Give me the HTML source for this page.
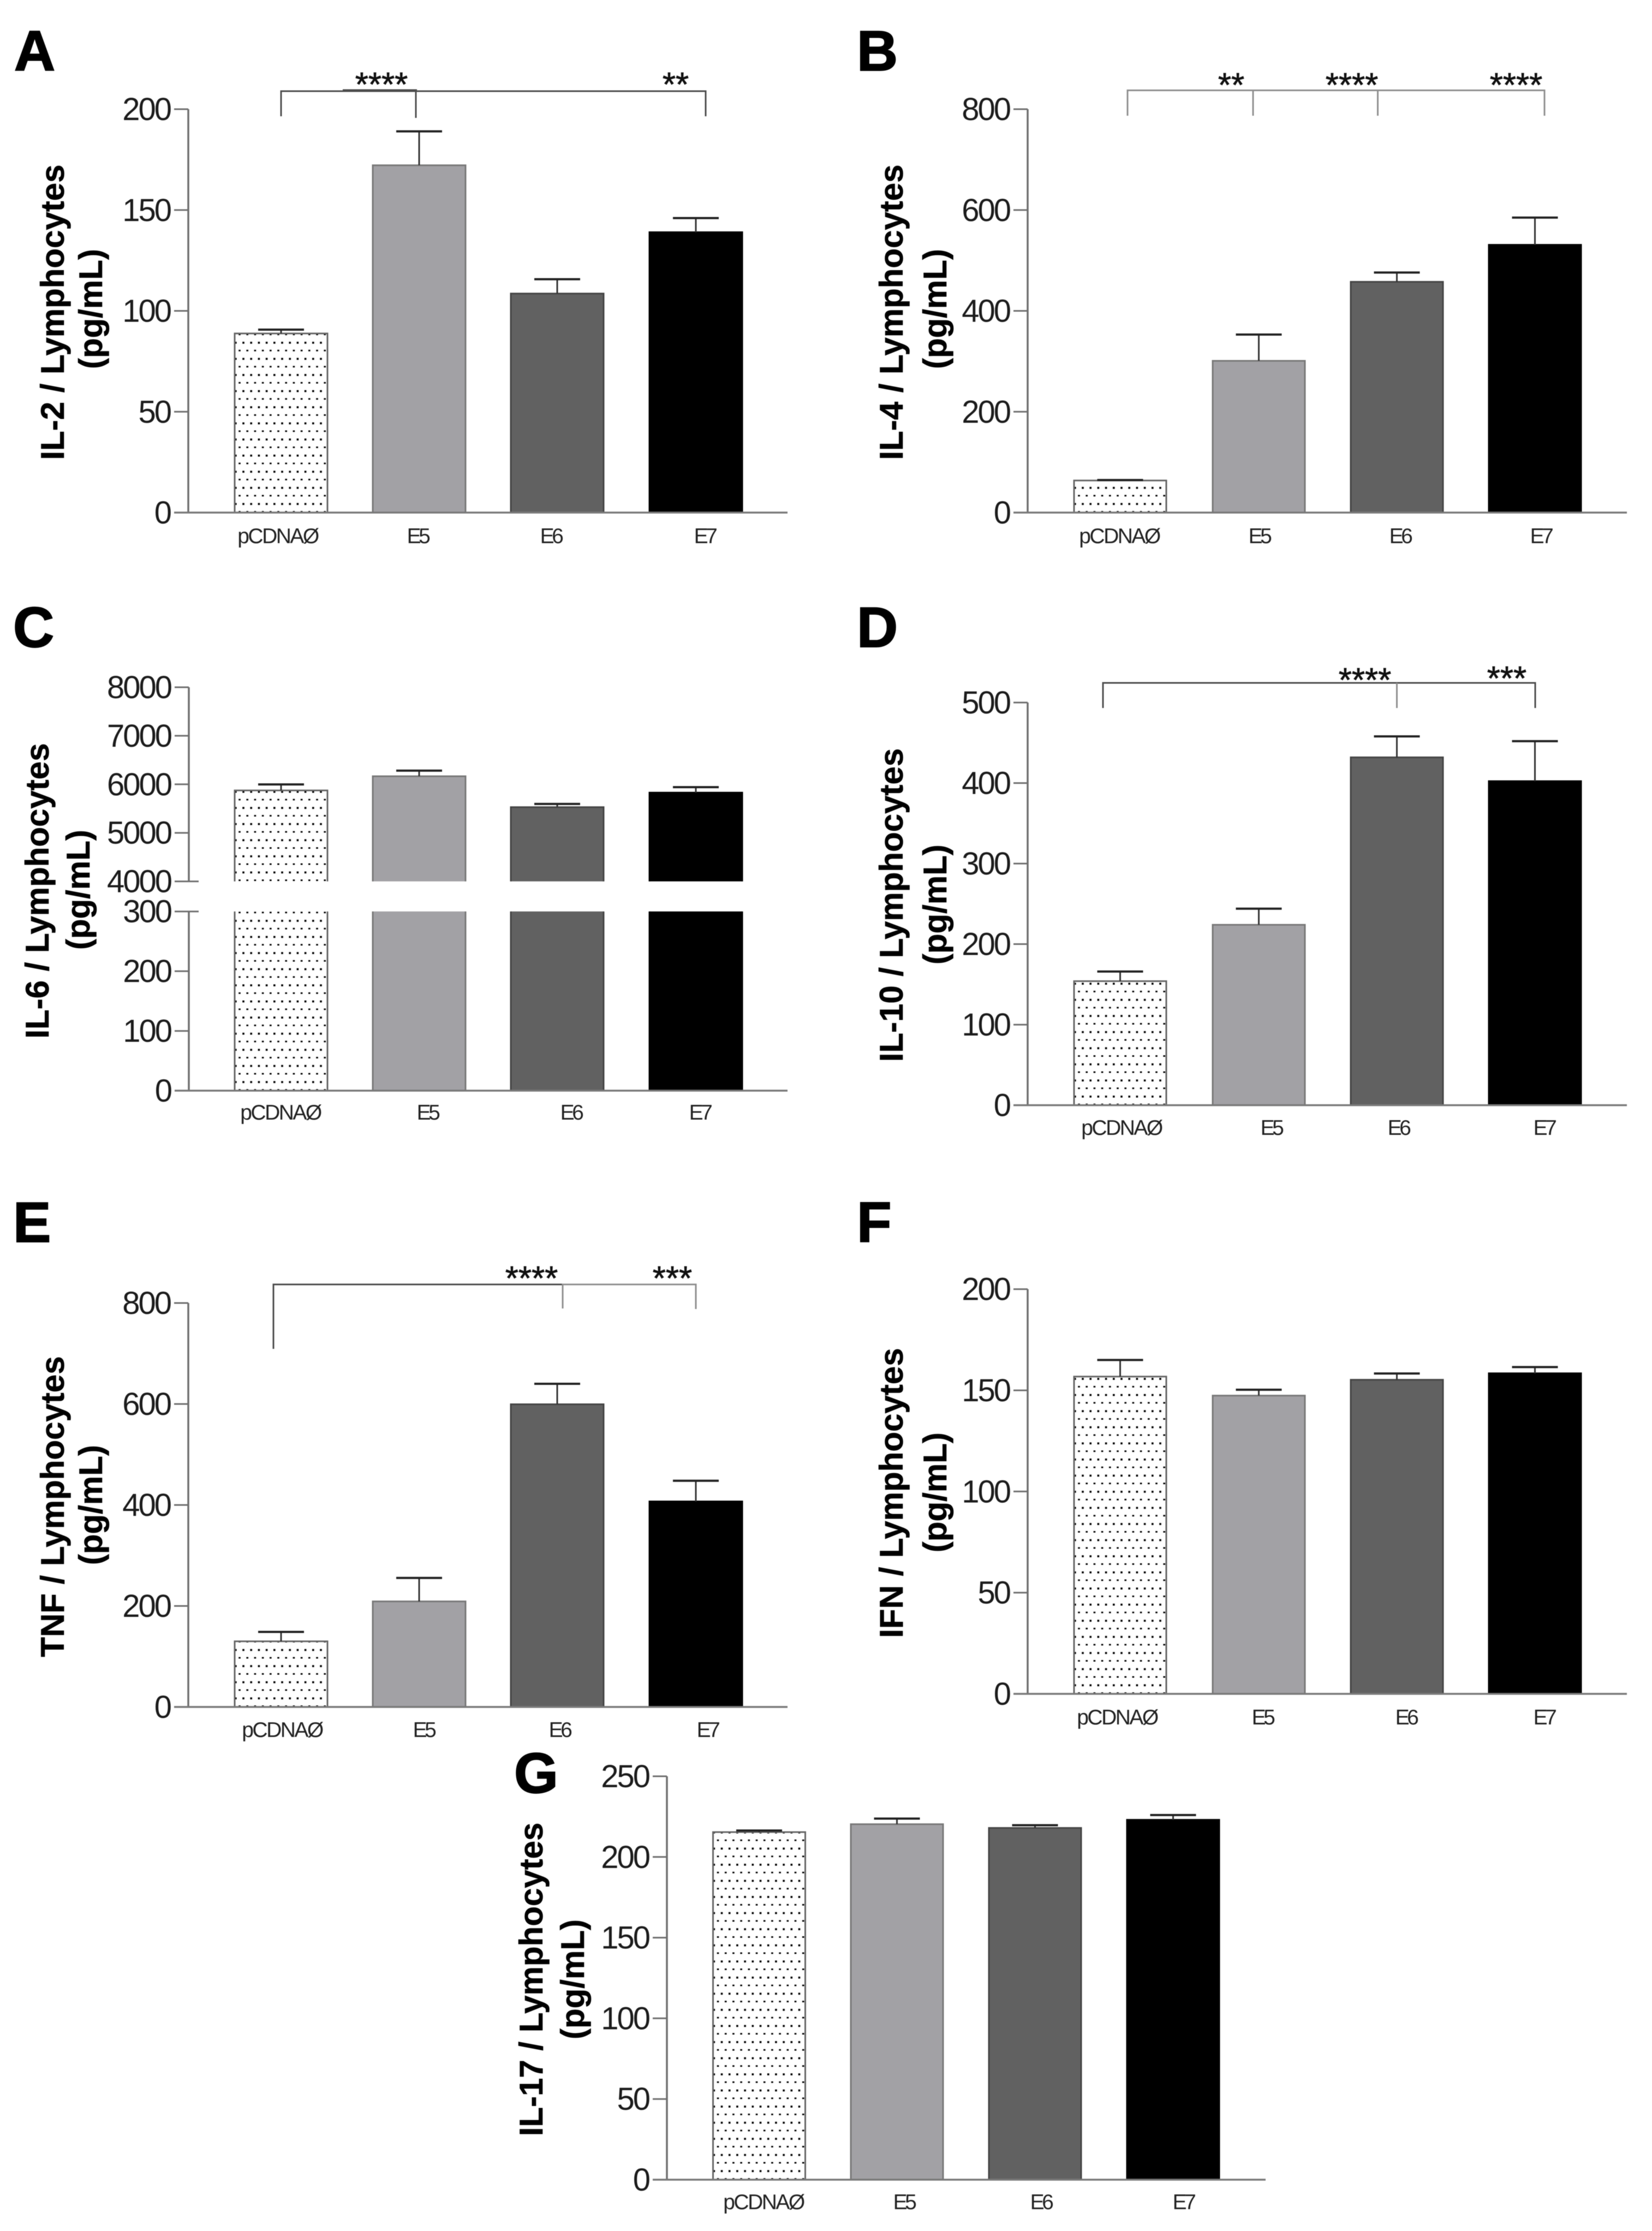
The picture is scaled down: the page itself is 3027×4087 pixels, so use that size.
<!DOCTYPE html>
<html lang="en">
<head>
<meta charset="utf-8">
<title>Cytokine levels per lymphocyte</title>
<style>
  html, body { margin: 0; padding: 0; background: #ffffff; }
  body { width: 3027px; height: 4087px; overflow: hidden; }
  svg { display: block; filter: blur(0.6px); font-family: "Liberation Sans", Arial, sans-serif; }
  .letter { font-size: 104px; font-weight: 700; fill: #000; stroke: #000; stroke-width: 2px; stroke-linejoin: miter; }
  .ytitle { font-size: 60px; font-weight: 700; fill: #000; text-anchor: middle; stroke: #000; stroke-width: 0.6px; }
  .stars { font-size: 62px; fill: #111; text-anchor: middle; stroke: #111; stroke-width: 0.8px; }
  .tick-label { font-size: 58px; letter-spacing: -3px; fill: #1c1c1c; text-anchor: end; }
  .cat-label { font-size: 39px; letter-spacing: -2.5px; fill: #222; text-anchor: middle; }
  .cat-label.short { letter-spacing: -4.5px; }
  .br-dark { stroke: #4d4d4d; stroke-width: 3px; fill: none; }
  .br-gray { stroke: #8f8f8f; stroke-width: 3px; fill: none; }
</style>
</head>
<body>
<svg id="figure" xmlns="http://www.w3.org/2000/svg" width="3027" height="4087" viewBox="0 0 3027 4087">
  <rect x="0" y="0" width="3027" height="4087" fill="#ffffff"/>
  <defs id="defs"></defs>

  <!-- Panel A -->
  <g id="panel-a">
    <text class="letter" x="26" y="129">A</text>
    <text class="ytitle" transform="translate(117,572) rotate(-90)">IL-2 / Lymphocytes</text>
    <text class="ytitle" transform="translate(187,566) rotate(-90)">(pg/mL)</text>
    <g>
      <path class="br-dark" d="M515 213V167H1293V213M762 167V216"/>
      <path class="br-dark" d="M628 165H764"/>
      <text class="stars" x="699" y="176">****</text>
      <text class="stars" x="1238" y="176">**</text>
    </g>
  </g>

  <!-- Panel B -->
  <g id="panel-b">
    <text class="letter" x="1570" y="129">B</text>
    <text class="ytitle" transform="translate(1654,572) rotate(-90)">IL-4 / Lymphocytes</text>
    <text class="ytitle" transform="translate(1734,566) rotate(-90)">(pg/mL)</text>
    <g>
      <path class="br-gray" d="M2066 212V165.500H2830V212M2296 165.500V212M2524.500 165.500V212"/>
      <text class="stars" x="2256" y="177">**</text>
      <text class="stars" x="2477" y="177">****</text>
      <text class="stars" x="2778" y="177">****</text>
    </g>
  </g>

  <!-- Panel C -->
  <g id="panel-c">
    <text class="letter" x="24" y="1185">C</text>
    <text class="ytitle" transform="translate(89,1632) rotate(-90)">IL-6 / Lymphocytes</text>
    <text class="ytitle" transform="translate(164,1630) rotate(-90)">(pg/mL)</text>
  </g>

  <!-- Panel D -->
  <g id="panel-d">
    <text class="letter" x="1570" y="1185">D</text>
    <text class="ytitle" transform="translate(1654,1658) rotate(-90)">IL-10 / Lymphocytes</text>
    <text class="ytitle" transform="translate(1734,1657) rotate(-90)">(pg/mL)</text>
    <g>
      <path class="br-dark" d="M2021 1297V1251H2813V1297"/>
      <path class="br-gray" d="M2559.500 1251V1297"/>
      <text class="stars" x="2501" y="1267">****</text>
      <text class="stars" x="2761" y="1264">***</text>
    </g>
  </g>

  <!-- Panel E -->
  <g id="panel-e">
    <text class="letter" x="24" y="2275">E</text>
    <text class="ytitle" transform="translate(117,2760) rotate(-90)">TNF / Lymphocytes</text>
    <text class="ytitle" transform="translate(187,2757) rotate(-90)">(pg/mL)</text>
    <g>
      <path class="br-dark" d="M501 2471V2353H1031"/>
      <path class="br-gray" d="M1031 2397V2353H1275V2398"/>
      <text class="stars" x="974" y="2363">****</text>
      <text class="stars" x="1232" y="2363">***</text>
    </g>
  </g>

  <!-- Panel F -->
  <g id="panel-f">
    <text class="letter" x="1570" y="2275">F</text>
    <text class="ytitle" transform="translate(1654,2735) rotate(-90)">IFN / Lymphocytes</text>
    <text class="ytitle" transform="translate(1734,2734) rotate(-90)">(pg/mL)</text>
  </g>

  <!-- Panel G -->
  <g id="panel-g">
    <text class="letter" x="942" y="3284">G</text>
    <text class="ytitle" transform="translate(994,3626) rotate(-90)">IL-17 / Lymphocytes</text>
    <text class="ytitle" transform="translate(1070,3626) rotate(-90)">(pg/mL)</text>
  </g>
</svg>

<script>
// ---- Data ----
const categories = ['pCDNAØ', 'E5', 'E6', 'E7'];

const il2Ticks = [0, 50, 100, 150, 200];
const il2Means = [88.8, 172.2, 108.6, 139];
const il2Upper = [90.7, 189, 115.7, 146];

const il4Ticks = [0, 200, 400, 600, 800];
const il4Means = [63.6, 301, 457.6, 531];
const il4Upper = [64.5, 353, 476, 585];

const il6Ticks = [0, 100, 200, 300, 4000, 5000, 6000, 7000, 8000];
const il6Means = [5874, 6166, 5530, 5829];
const il6Upper = [5998, 6282, 5596, 5941];

const il10Ticks = [0, 100, 200, 300, 400, 500];
const il10Means = [154, 224, 432, 402.4];
const il10Upper = [166, 244, 458, 452];

const tnfTicks = [0, 200, 400, 600, 800];
const tnfMeans = [130, 209, 599.5, 407];
const tnfUpper = [148.6, 255.6, 640, 448];

const ifnTicks = [0, 50, 100, 150, 200];
const ifnMeans = [156.8, 147.4, 155.2, 158.4];
const ifnUpper = [165, 150.3, 158.3, 161.5];

const il17Ticks = [0, 50, 100, 150, 200, 250];
const il17Means = [215.4, 220.3, 218, 223];
const il17Upper = [216.4, 223.8, 219.7, 226];

// ---- Rendering ----
const SVG_NS = 'http://www.w3.org/2000/svg';
const barFills = ['#ffffff', '#a2a1a5', '#616161', '#000000'];
const barStrokes = ['#666666', '#787878', '#454545', '#000000'];

function mk(tag, attrs, parent) {
  const node = document.createElementNS(SVG_NS, tag);
  for (const key in attrs) node.setAttribute(key, attrs[key]);
  parent.appendChild(node);
  return node;
}

function linearScale(baseY, topY, domainMax) {
  return function (v) { return baseY - (v / domainMax) * (baseY - topY); };
}

function brokenScale(baseY, lowTopY, lowMax, highBaseY, highMin, highTopY, highMax) {
  return function (v) {
    if (v <= lowMax) return baseY - (v / lowMax) * (baseY - lowTopY);
    return highBaseY - ((v - highMin) / (highMax - highMin)) * (highBaseY - highTopY);
  };
}

function dotPattern(id, left, baseY) {
  const defs = document.getElementById('defs');
  const pattern = mk('pattern', { id: 'dots-' + id, patternUnits: 'userSpaceOnUse', x: left, y: baseY, width: 14.2, height: 29.54 }, defs);
  mk('rect', { x: 7.2, y: 26.7, width: 3.6, height: 3.6, fill: '#000' }, pattern);
  mk('rect', { x: 0, y: 12, width: 3.6, height: 3.6, fill: '#000' }, pattern);
  return 'url(#dots-' + id + ')';
}

function drawPanel(id, layout, y, ticks, means, upper) {
  const panel = document.getElementById('panel-' + id);
  const baseY = y(0);
  const segments = layout.segments;

  // bars
  categories.forEach(function (cat, i) {
    const left = layout.barLeft[i];
    const right = left + layout.barW;
    const spans = layout.breakAt
      ? [[0, layout.breakAt[0]], [layout.breakAt[1], means[i]]]
      : [[0, means[i]]];
    spans.forEach(function (span, s) {
      const top = y(span[1]);
      const bottom = y(span[0]);
      const bar = mk('rect', {
        x: left, y: top, width: layout.barW, height: bottom - top,
        fill: barFills[i]
      }, panel);
      
      
      if (i === 0) {
        const dots = mk('rect', { x: left, y: top, width: layout.barW, height: bottom - top, fill: dotPattern(id + s, left, baseY) }, panel);
        
        
      }
      // outline: a broken bar stays open at the axis break
      const isLowerOfBreak = layout.breakAt && s === 0;
      const outlinePath = isLowerOfBreak
        ? 'M' + left + ' ' + top + 'V' + bottom + 'H' + right + 'V' + top
        : 'M' + left + ' ' + bottom + 'V' + top + 'H' + right + 'V' + bottom;
      const outline = mk('path', { d: outlinePath, fill: 'none', stroke: barStrokes[i], 'stroke-width': 3 }, panel);
      
      
    });

    // error bar
    const cx = left + layout.barW / 2;
    const stem = mk('line', { x1: cx, x2: cx, y1: y(means[i]), y2: y(upper[i]), stroke: '#333', 'stroke-width': 3 }, panel);
    
    
    const cap = mk('line', { x1: cx - 42, x2: cx + 42, y1: y(upper[i]), y2: y(upper[i]), stroke: '#222', 'stroke-width': 4 }, panel);
    
    

    // category label
    const label = mk('text', {
      x: layout.labelX[i], y: layout.labelY + 1,
      class: i === 0 ? 'cat-label' : 'cat-label short'
    }, panel);
    label.textContent = cat;
    
    
  });

  // y axis line(s)
  segments.forEach(function (seg) {
    const axis = mk('line', { x1: layout.axisX, x2: layout.axisX, y1: y(seg[0]), y2: y(seg[1]), stroke: '#6f6f6f', 'stroke-width': 3.5 }, panel);
    
    
  });

  // ticks and tick labels
  ticks.forEach(function (t) {
    const long = layout.breakAt && layout.breakAt.indexOf(t) >= 0;
    const tick = mk('line', {
      x1: layout.axisX - 26, x2: layout.axisX + (long ? 18 : 0),
      y1: y(t), y2: y(t), stroke: '#6f6f6f', 'stroke-width': 3
    }, panel);
    
    
    const tl = mk('text', { x: layout.axisX - 33, y: y(t) + 20, class: 'tick-label' }, panel);
    tl.textContent = String(t);
    
    
  });

  // baseline
  const xAxis = mk('line', { x1: layout.axisX - 26, x2: layout.endX, y1: baseY, y2: baseY, stroke: '#7a7a7a', 'stroke-width': 3.5 }, panel);
  
  
}

const leftBars = [430, 683, 936, 1190];
const rightBars = [1968, 2222, 2475, 2728];

drawPanel('a',
  { axisX: 345, endX: 1443, barLeft: leftBars, barW: 170, labelX: [509, 765, 1009, 1291], labelY: 994, segments: [[0, 200]] },
  linearScale(939, 200, 200), il2Ticks, il2Means, il2Upper);

drawPanel('b',
  { axisX: 1883, endX: 2981, barLeft: rightBars, barW: 169, labelX: [2051, 2307, 2565, 2823], labelY: 994, segments: [[0, 800]] },
  linearScale(939, 200, 800), il4Ticks, il4Means, il4Upper);

drawPanel('c',
  { axisX: 346, endX: 1443, barLeft: leftBars, barW: 170, labelX: [514, 783, 1046, 1282], labelY: 2050, segments: [[0, 300], [4000, 8000]], breakAt: [300, 4000] },
  brokenScale(1998, 1669.7, 300, 1614.6, 4000, 1259, 8000), il6Ticks, il6Means, il6Upper);

drawPanel('d',
  { axisX: 1883, endX: 2981, barLeft: rightBars, barW: 169, labelX: [2055, 2329, 2562, 2829], labelY: 2078, segments: [[0, 500]] },
  linearScale(2024.6, 1287, 500), il10Ticks, il10Means, il10Upper);

drawPanel('e',
  { axisX: 345, endX: 1443, barLeft: leftBars, barW: 170, labelX: [517, 776, 1025, 1296], labelY: 3181, segments: [[0, 800]] },
  linearScale(3127, 2387, 800), tnfTicks, tnfMeans, tnfUpper);

drawPanel('f',
  { axisX: 1883, endX: 2981, barLeft: rightBars, barW: 169, labelX: [2047, 2313, 2576, 2829], labelY: 3158, segments: [[0, 200]] },
  linearScale(3103, 2361.6, 200), ifnTicks, ifnMeans, ifnUpper);

drawPanel('g',
  { axisX: 1222, endX: 2319, barLeft: [1306.5, 1559, 1812, 2065], barW: 169, labelX: [1399, 1656, 1907, 2168], labelY: 4046, segments: [[0, 250]] },
  linearScale(3993, 3254, 250), il17Ticks, il17Means, il17Upper);
</script>
</body>
</html>
